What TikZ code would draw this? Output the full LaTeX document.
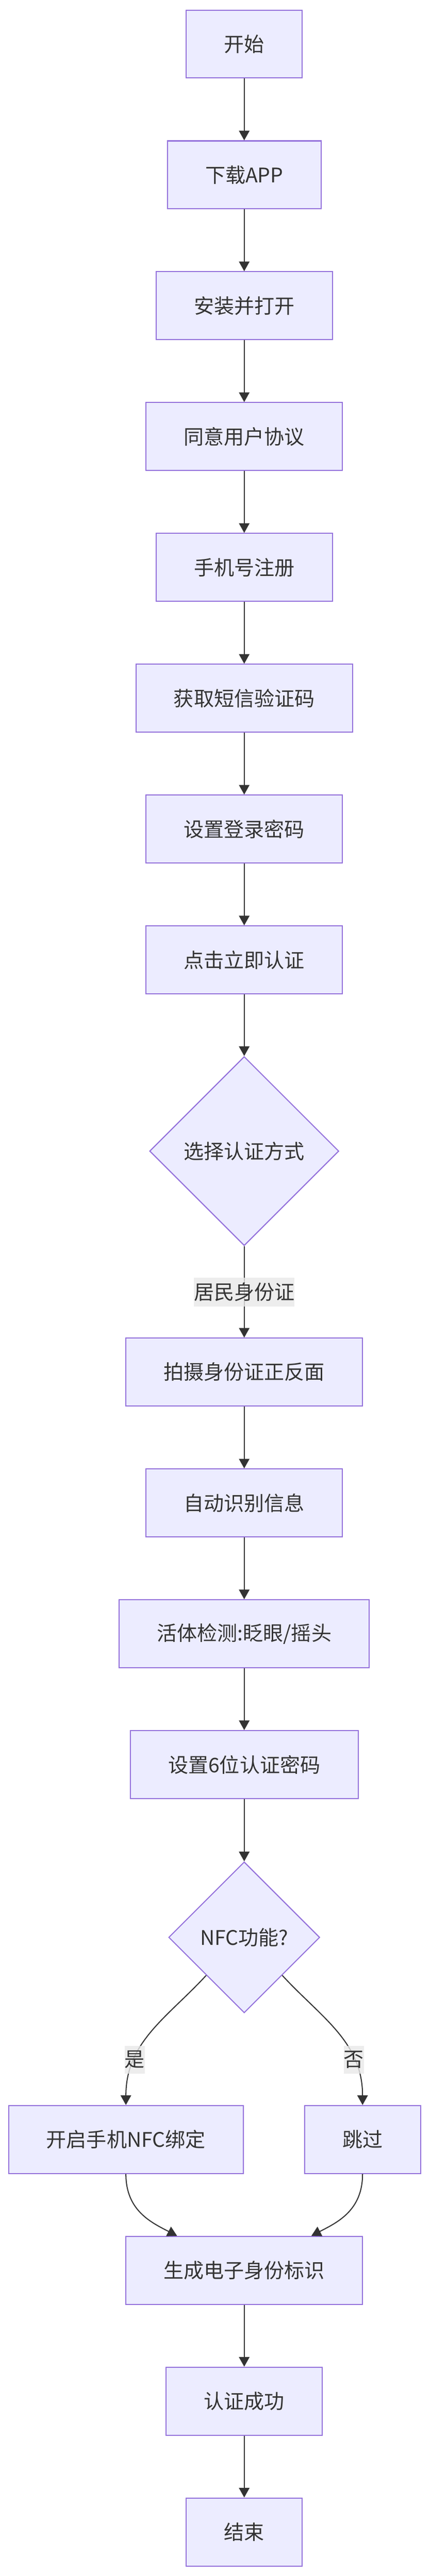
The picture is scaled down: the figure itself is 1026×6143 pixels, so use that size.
\documentclass[tikz,border=0pt]{standalone}
\usepackage{fontspec}
\setmainfont{Noto Sans CJK SC}
\usetikzlibrary{shapes.geometric,arrows.meta}
\definecolor{boxfill}{HTML}{ECECFF}
\definecolor{boxline}{HTML}{9370DB}
\definecolor{flowline}{HTML}{333333}
\definecolor{lblbg}{HTML}{E8E8E8}
\begin{document}
\begin{tikzpicture}[x=1pt, y=-1pt,
        stepbox/.style={draw=boxline, fill=boxfill, line width=2.5pt, text=flowline,
            font=\fontsize{48pt}{58pt}\selectfont, inner xsep=90pt, inner ysep=0pt, minimum height=162pt},
        choice/.style={diamond, aspect=1, draw=boxline, fill=boxfill, line width=2.5pt, text=flowline,
            font=\fontsize{48pt}{58pt}\selectfont, inner sep=0pt},
        flow/.style={draw=flowline, line width=2.5pt, -{Triangle[length=23pt, width=25pt]}},
        lbl/.style={fill=lblbg, fill opacity=0.8, text opacity=1, text=flowline,
            font=\fontsize{48pt}{58pt}\selectfont, inner xsep=0pt, inner ysep=12pt}]
                \useasboundingbox (0, 0) rectangle (1026, 6143);
                \node[stepbox] (start) at (582, 105) {开始};
                \node[stepbox] (download) at (582, 417) {下载APP};
                \node[stepbox] (install) at (582, 729) {安装并打开};
                \node[stepbox] (agree) at (582, 1041) {同意用户协议};
                \node[stepbox] (phone) at (582, 1353) {手机号注册};
                \node[stepbox] (sms) at (582, 1665) {获取短信验证码};
                \node[stepbox] (pwd) at (582, 1977) {设置登录密码};
                \node[stepbox] (auth) at (582, 2289) {点击立即认证};
                \node[choice, minimum size=451pt] (choose) at (582, 2745) {选择认证方式};
                \node[stepbox] (photo) at (582, 3272) {拍摄身份证正反面};
                \node[stepbox] (ocr) at (582, 3584) {自动识别信息};
                \node[stepbox] (live) at (582, 3896) {活体检测:眨眼/摇头};
                \node[stepbox] (pin) at (582, 4208) {设置6位认证密码};
                \node[choice, minimum size=360pt] (nfc) at (582, 4620) {NFC功能?};
                \node[stepbox] (nfcon) at (300, 5102) {开启手机NFC绑定};
                \node[stepbox] (skip) at (864, 5102) {跳过};
                \node[stepbox] (gen) at (582, 5414) {生成电子身份标识};
                \node[stepbox] (ok) at (582, 5726) {认证成功};
                \node[stepbox] (finish) at (582, 6038) {结束};
                \draw[flow] (start) -- (download);
                \draw[flow] (download) -- (install);
                \draw[flow] (install) -- (agree);
                \draw[flow] (agree) -- (phone);
                \draw[flow] (phone) -- (sms);
                \draw[flow] (sms) -- (pwd);
                \draw[flow] (pwd) -- (auth);
                \draw[flow] (auth) -- (choose);
                \draw[flow] (choose) -- node[lbl] {居民身份证} (photo);
                \draw[flow] (photo) -- (ocr);
                \draw[flow] (ocr) -- (live);
                \draw[flow] (live) -- (pin);
                \draw[flow] (pin) -- (nfc);
                \draw[flow] (nfc.south west) .. controls +(-92, 100) and +(0, -151) .. node[lbl, pos=0.72] {是} (nfcon.north);
                \draw[flow] (nfc.south east) .. controls +(92, 100) and +(0, -151) .. node[lbl, pos=0.72] {否} (skip.north);
                \draw[flow] (nfcon.south) .. controls +(0, 87) and +(-62, -32) .. ([xshift=-160pt]gen.north);
                \draw[flow] (skip.south) .. controls +(0, 87) and +(62, -32) .. ([xshift=160pt]gen.north);
                \draw[flow] (gen) -- (ok);
                \draw[flow] (ok) -- (finish);
            \end{tikzpicture}
\end{document}
